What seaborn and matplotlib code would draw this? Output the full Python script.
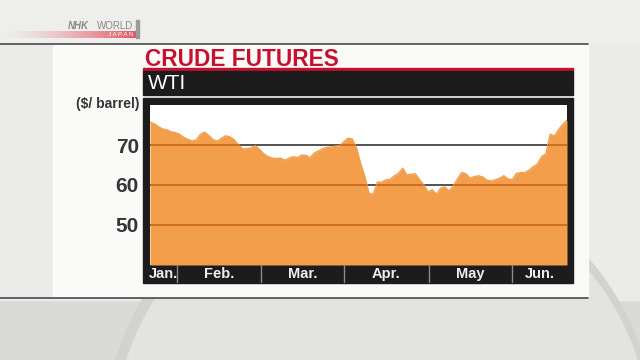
import numpy as np
import matplotlib.pyplot as plt
import matplotlib.patches as mpatches
import matplotlib.transforms as mtransforms
import seaborn as sns

sns.set_style("white")
plt.rcParams['font.family'] = ['Liberation Sans', 'DejaVu Sans']

ORANGE = '#F39E4B'
RED = '#C8102E'
BLACK = '#1c1c1c'
DARK = '#353535'

# WTI closing price, $/barrel (Jan. -> Jun.)
wti = [75.7, 75.3, 74.6, 74.0, 73.8, 73.3, 73.1, 72.7, 71.9, 71.4,
       71.0, 71.3, 72.7, 73.2, 72.3, 71.3, 71.0, 71.7, 72.3, 72.0,
       71.3, 70.0, 69.0, 69.1, 69.3, 69.8, 68.9, 67.8, 67.1, 66.7,
       66.6, 66.7, 66.2, 66.7, 67.1, 66.8, 67.5, 67.4, 66.8, 68.0,
       68.5, 69.1, 69.4, 69.5, 69.7, 69.8, 70.8, 71.7, 71.5, 69.3,
       65.4, 62.1, 57.9, 57.7, 60.7, 60.7, 61.3, 61.4, 62.3, 62.9,
       64.2, 62.5, 62.7, 62.8, 61.3, 60.0, 58.3, 58.8, 57.7, 59.2,
       59.5, 58.5, 59.8, 61.5, 63.1, 62.8, 61.7, 62.1, 62.3, 62.0,
       61.2, 61.0, 61.3, 61.7, 62.3, 61.5, 61.3, 62.9, 63.1, 63.1,
       63.7, 64.6, 65.3, 67.1, 67.8, 72.7, 72.2, 73.8, 75.2, 76.2]
days = np.arange(len(wti))
month_labels = ['Jan.', 'Feb.', 'Mar.', 'Apr.', 'May', 'Jun.']
month_edges = [0, 6.4, 26.4, 46.1, 66.2, 85.9, 99]
y_ticks = [50, 60, 70]

W, H = 640, 360
fig = plt.figure(figsize=(6.4, 3.6), dpi=100, facecolor='#dadad8')

# ---- background / broadcast frame, in pixel coords ----
bg = fig.add_axes([0, 0, 1, 1])
bg.axis('off')
bg.add_patch(mpatches.Rectangle((0, 0), W, 300, color='#ebebe9', zorder=0))
bg.add_patch(mpatches.Circle((380, 440), 276, color='#d2d2ce', zorder=1))
bg.add_patch(mpatches.Circle((382, 442), 268, color='#e3e3df', zorder=1))
bg.add_patch(mpatches.Rectangle((0, 0), W, 43, color='#eeeeec', zorder=2))
bg.add_patch(mpatches.Rectangle((53, 44), 535, 253, color='#fafaf9', zorder=2))
bg.plot([0, 588], [43.5, 43.5], color='#4a4a4a', lw=1.2, zorder=3)
bg.plot([0, 588], [297.5, 297.5], color='#4a4a4a', lw=1.2, zorder=3)

# NHK logo
grad = np.linspace(0, 1, 256)[None, :] ** 1.5
strip = np.zeros((1, 256, 4))
strip[..., 0], strip[..., 1], strip[..., 2] = 0.88, 0.33, 0.38
strip[..., 3] = grad
bg.imshow(strip, extent=[0, 138, 38, 31], aspect='auto', zorder=3)
bg.add_patch(mpatches.Rectangle((136, 20), 3, 18, color='#9a9a9a', zorder=3))
bg.text(68, 26, 'NHK', fontsize=7, fontweight='bold', style='italic',
        color='#8a8a8a', va='center', zorder=4)
bg.text(97, 26, 'WORLD', fontsize=7, color='#8a8a8a', va='center', zorder=4)
bg.text(133, 34.5, 'J A P A N', fontsize=4.5, color='white', ha='right',
        va='center', zorder=4)

# title block
bg.text(145, 65.5, 'CRUDE FUTURES', fontsize=16.3, fontweight='bold', color=RED,
        va='baseline', zorder=4)
bg.add_patch(mpatches.Rectangle((143, 68), 430, 3, color=RED, zorder=3))
bg.add_patch(mpatches.Rectangle((143, 71), 430, 24, color=BLACK, zorder=3))
bg.text(148, 83.5, 'WTI', fontsize=15, color='white', va='center', zorder=4)
bg.add_patch(mpatches.Rectangle((143, 98), 430, 185, color=BLACK, zorder=3))
bg.text(139, 104, '($/ barrel)', fontsize=10, fontweight='bold', color=DARK,
        ha='right', va='center', zorder=4)
bg.set_xlim(0, W)
bg.set_ylim(H, 0)

# ---- chart ----
ax = fig.add_axes([150 / W, (H - 265) / H, 417 / W, 160 / H])
ax.set_facecolor('white')
for gy in y_ticks:
    ax.axhline(gy, color=DARK, lw=1.2, zorder=1)
poly = ax.fill_between(days, wti, 40, color=ORANGE, lw=0, zorder=2)
sns.lineplot(x=days, y=wti, color=ORANGE, lw=1, ax=ax, zorder=3)
clip = poly.get_paths()[0]
for gy in y_ticks:
    ln = ax.axhline(gy, color='#c8641c', lw=1.2, zorder=4)
    ln.set_clip_path(clip, ax.transData)

ax.set_xlim(0, 99)
ax.set_ylim(40, 80)
ax.set_xticks([])
ax.set_yticks(y_ticks)
ax.set_yticklabels([str(t) for t in y_ticks], fontsize=15, fontweight='bold', color=DARK)
ax.tick_params(axis='y', length=0, pad=8)
ax.set_xlabel('')
ax.set_ylabel('')
for s in ax.spines.values():
    s.set_visible(False)

# month band below the plot
trans = mtransforms.blended_transform_factory(ax.transData, ax.transAxes)
for e in month_edges[1:-1]:
    ax.plot([e, e], [0, -0.106], color='#8a8a8a', lw=1, transform=trans, clip_on=False)
for lab, a, b in zip(month_labels, month_edges[:-1], month_edges[1:]):
    ax.text((a + b) / 2, -0.055, lab, transform=trans, ha='center', va='center',
            fontsize=10.5, fontweight='bold', color='#eeeeee')

fig.savefig('out.png', dpi=100, facecolor=fig.get_facecolor())
